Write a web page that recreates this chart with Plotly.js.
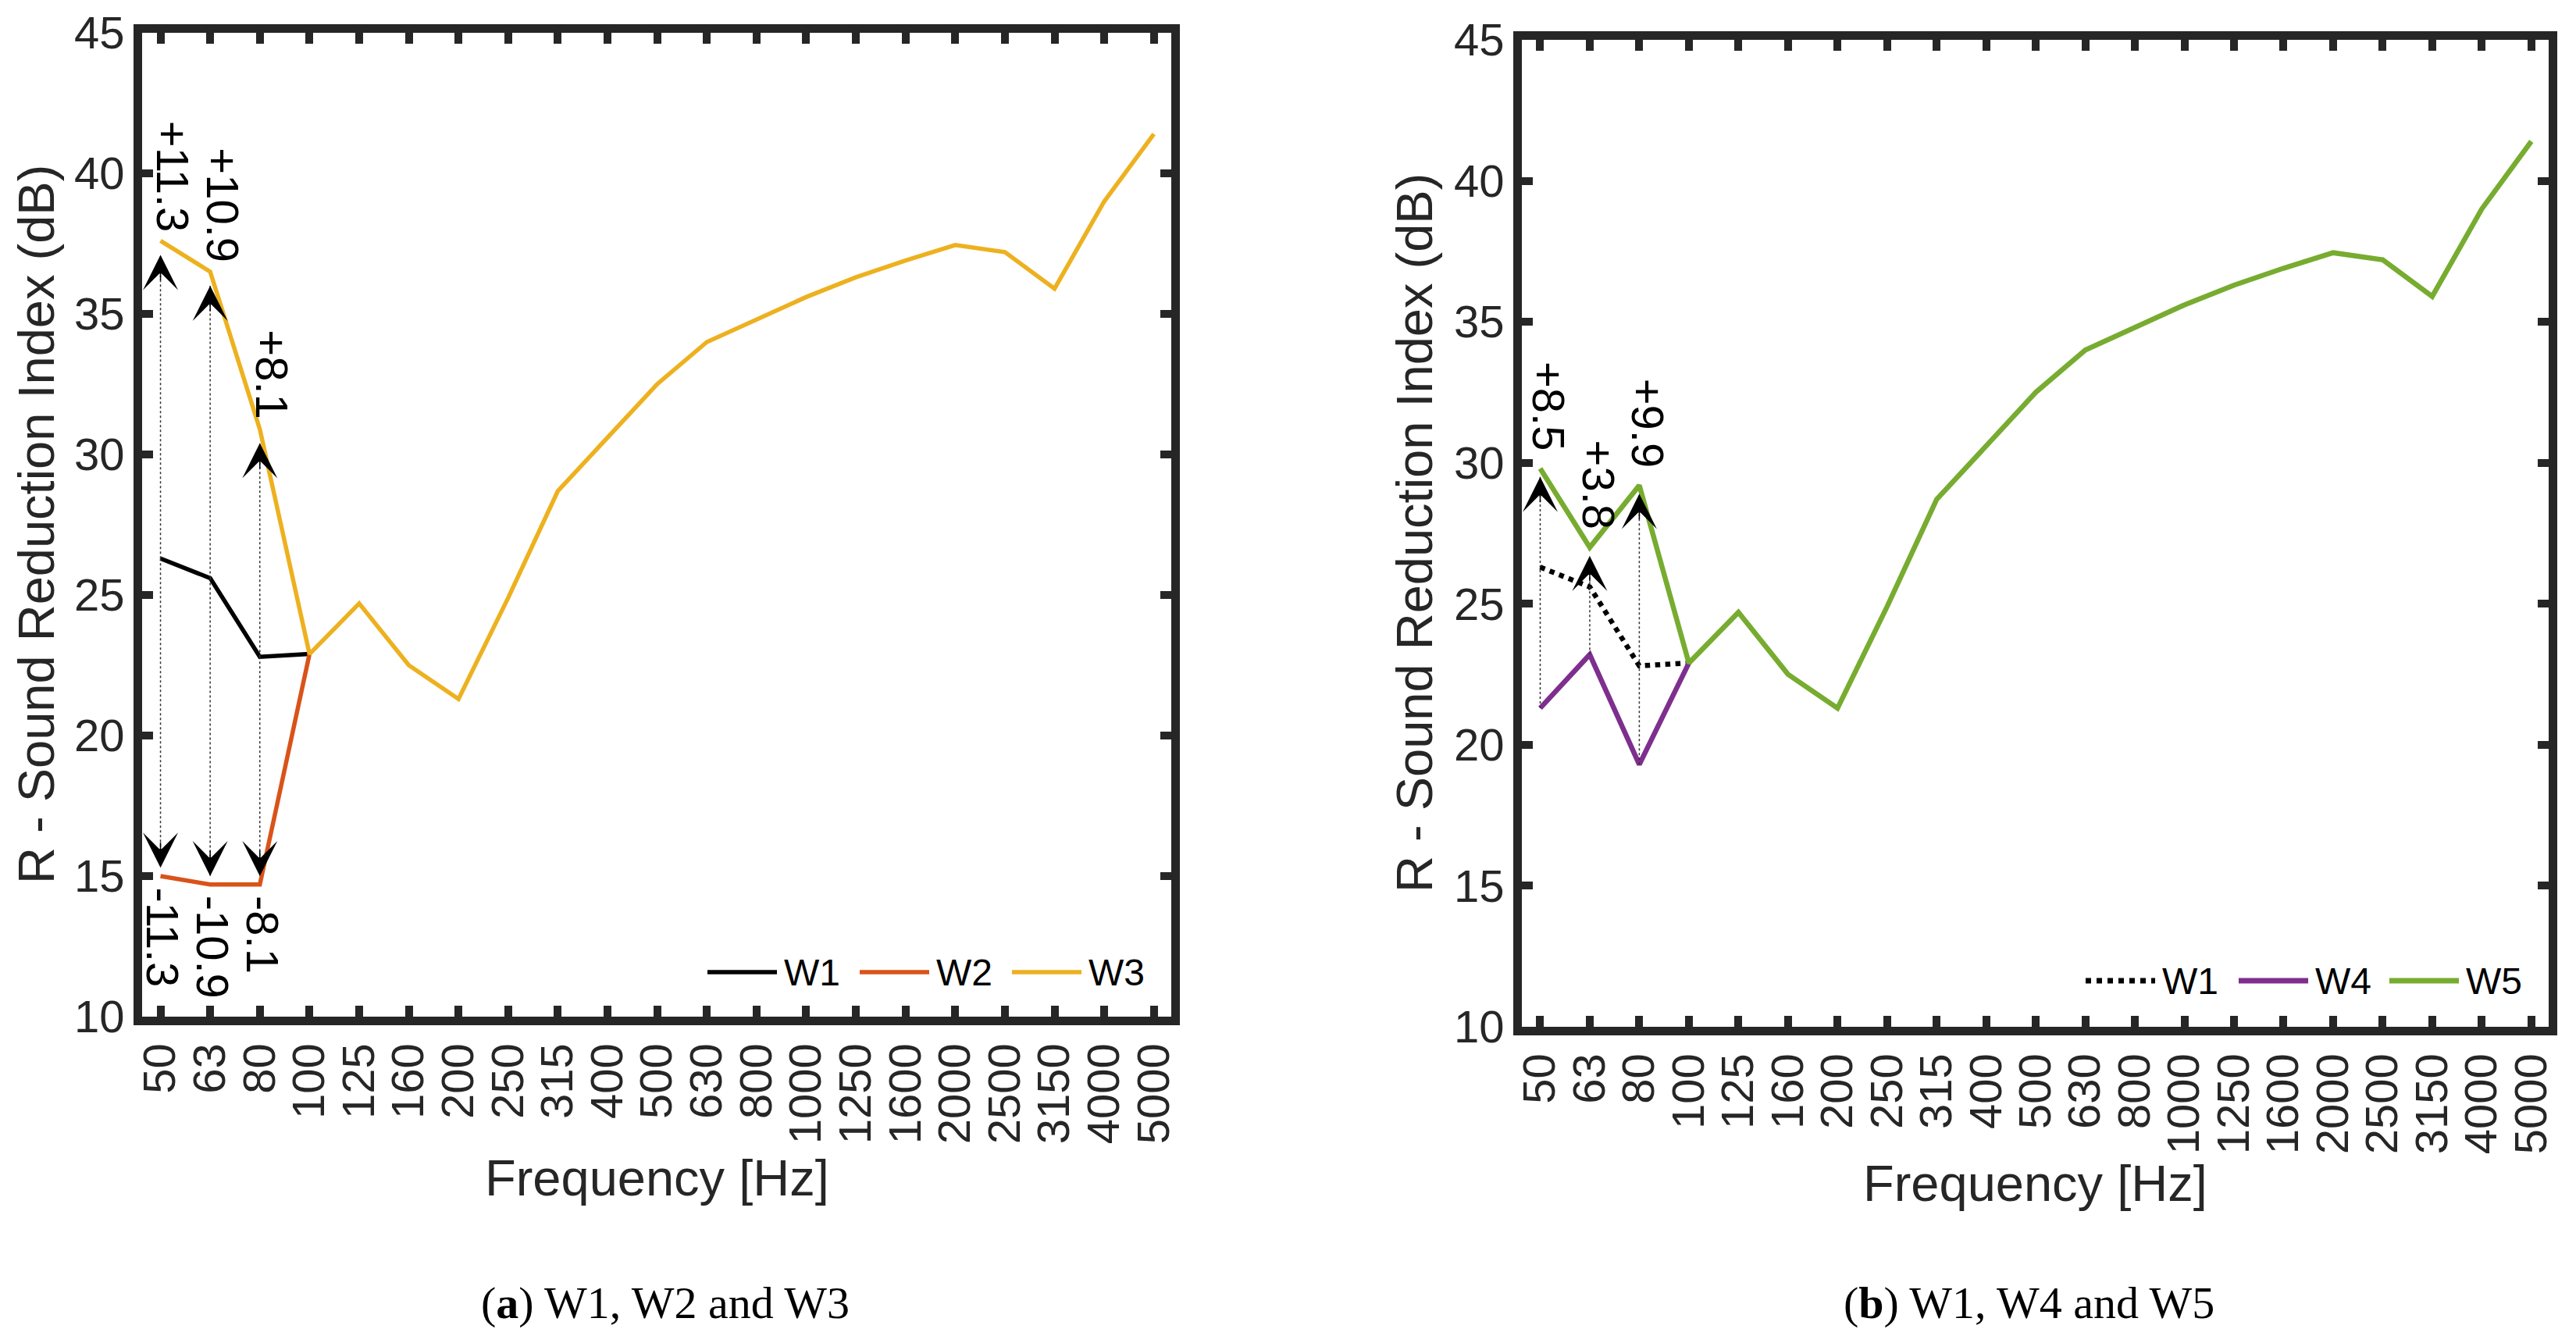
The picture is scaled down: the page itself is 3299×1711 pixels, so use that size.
<!DOCTYPE html>
<html>
<head>
<meta charset="utf-8">
<script src="https://cdn.plot.ly/plotly-3.0.1.min.js"></script>
<style>
  html, body { margin: 0; padding: 0; background: #ffffff; }
  #chart { width: 3299px; height: 1711px; }
</style>
</head>
<body>
<div id="chart"></div>
<script>
// Third-octave band centre frequencies (Hz)
const freqs = ['50', '63', '80', '100', '125', '160', '200', '250', '315', '400', '500',
  '630', '800', '1000', '1250', '1600', '2000', '2500', '3150', '4000', '5000']

// Sound reduction index R (dB)
const w1 = [26.3, 25.6, 22.8, 22.9]
const w2 = [15.0, 14.7, 14.7, 22.9]
const w3 = [37.6, 36.5, 30.9, 22.9, 24.7, 22.5, 21.3, 24.9, 28.7, 30.6, 32.5,
  34.0, 34.8, 35.6, 36.3, 36.9, 37.45, 37.2, 35.9, 39.0, 41.4]
const w4 = [21.3, 23.2, 19.3, 22.9]
const w5 = [29.8, 27.0, 29.2, 22.9, 24.7, 22.5, 21.3, 24.9, 28.7, 30.6, 32.5,
  34.0, 34.8, 35.6, 36.3, 36.9, 37.45, 37.2, 35.9, 39.0, 41.4]

// bands where the differences are marked
const markedBands = 3

const W = 3299
const H = 1711
const px = v => v / W
const py = v => 1 - v / H

const frame = '#262626'
const sans = 'Liberation Sans, Arial, Helvetica, sans-serif'
const serif = 'Liberation Serif, Times New Roman, serif'

const colors = {
  w1: '#000000',
  w2: '#D95319',
  w3: '#EDB120',
  w4: '#7E2F8E',
  w5: '#77AC30'
}

const traces = [
  { x: freqs.slice(0, w1.length), y: w1, name: 'W1', xaxis: 'x', yaxis: 'y',
    mode: 'lines', line: { color: colors.w1, width: 5.5 } },
  { x: freqs.slice(0, w2.length), y: w2, name: 'W2', xaxis: 'x', yaxis: 'y',
    mode: 'lines', line: { color: colors.w2, width: 5.5 } },
  { x: freqs, y: w3, name: 'W3', xaxis: 'x', yaxis: 'y',
    mode: 'lines', line: { color: colors.w3, width: 5.5 } },
  { x: freqs.slice(0, w1.length), y: w1, name: 'W1', xaxis: 'x2', yaxis: 'y2',
    mode: 'lines', line: { color: colors.w1, width: 6.5, dash: 'dot' } },
  { x: freqs.slice(0, w4.length), y: w4, name: 'W4', xaxis: 'x2', yaxis: 'y2',
    mode: 'lines', line: { color: colors.w4, width: 6.5 } },
  { x: freqs, y: w5, name: 'W5', xaxis: 'x2', yaxis: 'y2',
    mode: 'lines', line: { color: colors.w5, width: 6.5 } }
]

function xAxis(domain, anchor) {
  return {
    type: 'category',
    categoryorder: 'array',
    categoryarray: freqs,
    domain: domain,
    anchor: anchor,
    range: [-0.37, 20.35],
    tickmode: 'array',
    tickvals: freqs,
    ticktext: freqs,
    tickangle: -90,
    tickfont: { family: sans, size: 58, color: frame },
    showline: true,
    linecolor: frame,
    linewidth: 11,
    mirror: 'ticks',
    ticks: 'inside',
    ticklen: 14,
    tickwidth: 10,
    tickcolor: frame,
    showgrid: false,
    zeroline: false,
    automargin: false,
    fixedrange: true
  }
}

function yAxis(domain, anchor) {
  return {
    domain: domain,
    anchor: anchor,
    range: [10, 45],
    tick0: 10,
    dtick: 5,
    tickfont: { family: sans, size: 58, color: frame },
    showline: true,
    linecolor: frame,
    linewidth: 11,
    mirror: 'ticks',
    ticks: 'inside',
    ticklen: 14,
    tickwidth: 10,
    tickcolor: frame,
    showgrid: false,
    zeroline: false,
    automargin: false,
    fixedrange: true
  }
}

const shapes = []
const annotations = []

// dotted shaft + arrow head + rotated difference label
// (category axes take the band's serial number for shapes and annotations)
function marker(xref, yref, band, from, to, tipGap, label, labelShift, labelGap) {
  const up = to > from
  const tip = up ? to - tipGap : to + tipGap
  shapes.push({
    type: 'line', xref: xref, yref: yref,
    x0: band, x1: band, y0: from, y1: tip,
    line: { color: '#333333', width: 1.5, dash: 'dot' }
  })
  annotations.push({
    xref: xref, yref: yref, x: band, y: tip,
    text: '', showarrow: true, arrowhead: 3, arrowsize: 5, arrowwidth: 1.5,
    arrowcolor: '#000000', ax: 0, ay: up ? 34 : -34, standoff: 0
  })
  annotations.push({
    xref: xref, yref: yref, x: band, y: to,
    text: label, showarrow: false, textangle: 90,
    xanchor: 'center', yanchor: up ? 'bottom' : 'top',
    xshift: labelShift, yshift: up ? labelGap : -labelGap,
    font: { family: sans, size: 58, color: '#000000' }
  })
}

const fmt = (d, sign) => sign + Math.abs(d).toFixed(1)

for (let i = 0; i < markedBands; i++) {
  marker('x', 'y', i, w1[i], w3[i], 0.5, fmt(w3[i] - w1[i], '+'), 16, 10)
  marker('x', 'y', i, w1[i], w2[i], 0.3, fmt(w1[i] - w2[i], '-'), 3, 12)
  marker('x2', 'y2', i, w4[i], w5[i], 0.3, fmt(w5[i] - w4[i], '+'), 11, 20)
}

// legends drawn inside each panel, bottom right
function legend(items, yPx, width) {
  items.forEach(it => {
    shapes.push({
      type: 'line', xref: 'paper', yref: 'paper',
      x0: px(it.x0), x1: px(it.x0 + 89), y0: py(yPx), y1: py(yPx),
      line: { color: it.color, width: width, dash: it.dash || 'solid' }
    })
    annotations.push({
      xref: 'paper', yref: 'paper', x: px(it.x0 + 96), y: py(yPx),
      xanchor: 'left', yanchor: 'middle', showarrow: false, text: it.name,
      font: { family: sans, size: 48, color: '#000000' }
    })
  })
}

legend([
  { name: 'W1', color: colors.w1, x0: 906 },
  { name: 'W2', color: colors.w2, x0: 1101 },
  { name: 'W3', color: colors.w3, x0: 1296 }
], 1245, 5.5)

legend([
  { name: 'W1', color: colors.w1, x0: 2671, dash: 'dot' },
  { name: 'W4', color: colors.w4, x0: 2867 },
  { name: 'W5', color: colors.w5, x0: 3060 }
], 1256, 7)

// axis titles and panel captions
const axisTitleFont = { family: sans, size: 65, color: frame }
annotations.push(
  { xref: 'paper', yref: 'paper', x: px(841), y: py(1508), text: 'Frequency [Hz]',
    showarrow: false, xanchor: 'center', yanchor: 'middle', font: axisTitleFont },
  { xref: 'paper', yref: 'paper', x: px(2606), y: py(1515), text: 'Frequency [Hz]',
    showarrow: false, xanchor: 'center', yanchor: 'middle', font: axisTitleFont },
  { xref: 'paper', yref: 'paper', x: px(46), y: py(672), text: 'R - Sound Reduction Index (dB)',
    showarrow: false, textangle: -90, xanchor: 'center', yanchor: 'middle', font: axisTitleFont },
  { xref: 'paper', yref: 'paper', x: px(1812), y: py(683), text: 'R - Sound Reduction Index (dB)',
    showarrow: false, textangle: -90, xanchor: 'center', yanchor: 'middle', font: axisTitleFont },
  { xref: 'paper', yref: 'paper', x: px(852), y: py(1668), text: '(<b>a</b>) W1, W2 and W3',
    showarrow: false, xanchor: 'center', yanchor: 'middle',
    font: { family: serif, size: 58, color: '#000000' } },
  { xref: 'paper', yref: 'paper', x: px(2598), y: py(1668), text: '(<b>b</b>) W1, W4 and W5',
    showarrow: false, xanchor: 'center', yanchor: 'middle',
    font: { family: serif, size: 58, color: '#000000' } }
)

const layout = {
  width: W,
  height: H,
  margin: { l: 0, r: 0, t: 0, b: 0 },
  paper_bgcolor: '#ffffff',
  plot_bgcolor: '#ffffff',
  showlegend: false,
  xaxis: xAxis([px(182), px(1500)], 'y'),
  yaxis: yAxis([py(1302), py(42)], 'x'),
  xaxis2: xAxis([px(1949), px(3264)], 'y2'),
  yaxis2: yAxis([py(1315), py(51)], 'x2'),
  shapes: shapes,
  annotations: annotations
}

const config = {
  displaylogo: false,
  displayModeBar: false,
  staticPlot: true
}

Plotly.newPlot('chart', traces, layout, config)
</script>
</body>
</html>
